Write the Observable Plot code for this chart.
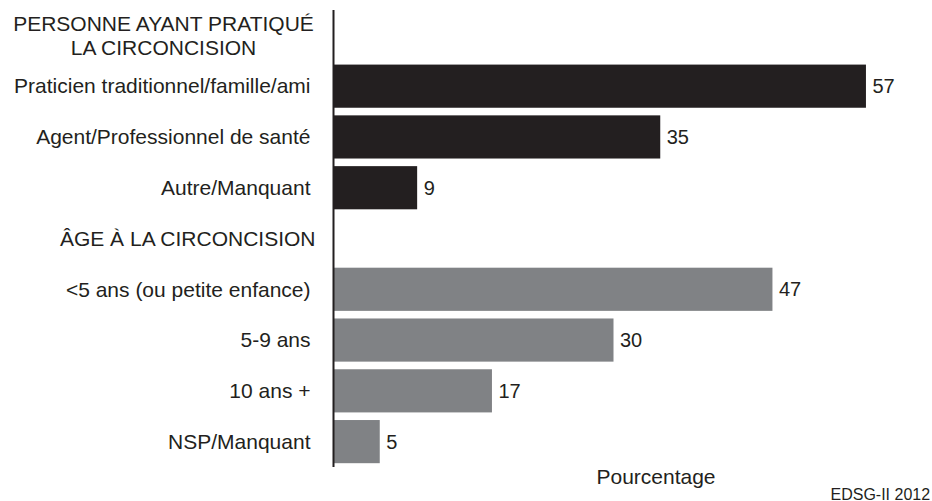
<!DOCTYPE html>
<html>
<head>
<meta charset="utf-8">
<script src="https://cdn.jsdelivr.net/npm/d3@7"></script>
<script src="https://cdn.jsdelivr.net/npm/@observablehq/plot@0.6"></script>
<style>
  body { margin: 0; background: #fff; }
  svg { font-family: "Liberation Sans", Arial, sans-serif; }
</style>
</head>
<body>
<div id="chart"></div>
<script>
const header1 = "PERSONNE AYANT PRATIQUÉ\nLA CIRCONCISION";
const header2 = "ÂGE À LA CIRCONCISION";
const categories1 = ["Praticien traditionnel/famille/ami", "Agent/Professionnel de santé", "Autre/Manquant"];
const values1 = [57, 35, 9];
const categories2 = ["<5 ans (ou petite enfance)", "5-9 ans", "10 ans +", "NSP/Manquant"];
const values2 = [47, 30, 17, 5];
const xLabel = "Pourcentage";
const source = "EDSG-II 2012";

const rows = [
  ...categories1.map((c, i) => ({cat: c, value: values1[i], group: "who"})),
  ...categories2.map((c, i) => ({cat: c, value: values2[i], group: "age"}))
];
const order = [header1, ...categories1, header2, ...categories2];

const chart = Plot.plot({
  width: 932,
  height: 501,
  marginLeft: 333,
  marginRight: 38,
  marginTop: 10,
  marginBottom: 34,
  x: {domain: [0, 60], axis: null},
  y: {domain: order, axis: null, paddingInner: 0.15, paddingOuter: 0.075, round: false},
  color: {domain: ["who", "age"], range: ["#231f20", "#808285"]},
  style: {fontFamily: "Liberation Sans, Arial, sans-serif", color: "#231f20"},
  marks: [
    Plot.barX(rows, {x: "value", y: "cat", fill: "group"}),
    Plot.text(rows, {x: "value", y: "cat", text: d => String(d.value), textAnchor: "start", dx: 6, fontSize: 20, fill: "#231f20"}),
    Plot.text([...categories1, ...categories2], {x: 0, y: d => d, text: d => d, textAnchor: "end", dx: -23, fontSize: 21, fill: "#231f20"}),
    Plot.text([header2], {x: 0, y: d => d, text: d => d, textAnchor: "end", dx: -18, fontSize: 21, fill: "#231f20"}),
    Plot.text([header1], {x: 0, y: d => d, text: d => d, textAnchor: "middle", dx: -170, dy: -1, fontSize: 21, lineHeight: 1.16, fill: "#231f20"}),
    Plot.ruleX([0], {stroke: "#231f20", strokeWidth: 2}),
    Plot.text([xLabel], {frameAnchor: "bottom", dx: 42, dy: 16, fontSize: 21, fill: "#231f20"}),
    Plot.text([source], {frameAnchor: "bottom-right", textAnchor: "start", dx: -64, dy: 32, fontSize: 16, fill: "#231f20"})
  ]
});
document.getElementById("chart").appendChild(chart);
</script>
</body>
</html>
